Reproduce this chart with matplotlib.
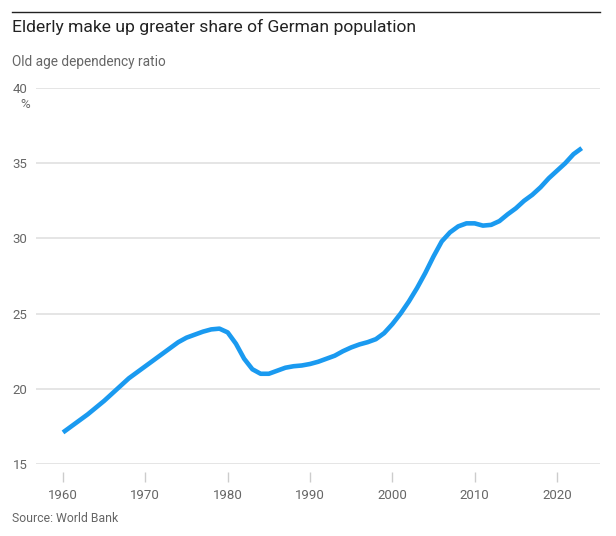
import numpy as np
import matplotlib.pyplot as plt

# Old age dependency ratio, Germany
years = list(range(1960, 2024))
ratio = [17.1, 17.5, 17.9, 18.3, 18.75, 19.2, 19.7, 20.2, 20.7, 21.1,
         21.5, 21.9, 22.3, 22.7, 23.1, 23.4, 23.6, 23.8, 23.95, 24.0,
         23.75, 23.0, 22.0, 21.3, 21.0, 21.0, 21.2, 21.4, 21.5, 21.55,
         21.65, 21.8, 22.0, 22.2, 22.5, 22.75, 22.95, 23.1, 23.3, 23.7,
         24.3, 25.0, 25.8, 26.7, 27.7, 28.8, 29.8, 30.4, 30.8, 31.0,
         31.0, 30.85, 30.9, 31.15, 31.6, 32.0, 32.5, 32.9, 33.4, 34.0,
         34.5, 35.0, 35.6, 36.0]
xticks = [1960, 1970, 1980, 1990, 2000, 2010, 2020]
yticks = [15, 20, 25, 30, 35, 40]

plt.rcParams['font.family'] = ['Roboto', 'DejaVu Sans']

W, H = 616, 536
fig = plt.figure(figsize=(W / 100, H / 100), dpi=100)
ax = fig.add_axes([36 / W, 1 - 464 / H, 564 / W, 376 / H])

ax.plot(years, ratio, color='#1a9af0', lw=3.3, solid_capstyle='butt',
        solid_joinstyle='round', clip_on=False, zorder=3)

ax.set_xlim(1956.72, 2025.22)
ax.set_ylim(15, 40)
ax.set_yticks(yticks)
ax.set_xticks(xticks)
ax.grid(axis='y', color='#e0e0e0', lw=1.2)
ax.set_axisbelow(True)

for s in ['top', 'right', 'left']:
    ax.spines[s].set_visible(False)
ax.spines['bottom'].set_position(('outward', 6))
ax.spines['bottom'].set_visible(False)

ax.tick_params(axis='y', length=0, pad=6, labelsize=9.5, labelcolor='#666666')
ax.tick_params(axis='x', length=7, width=1, color='#cccccc', pad=5,
               labelsize=9.5, labelcolor='#666666')

fig.text(30 / W, 1 - 105 / H, '%', ha='right', va='center',
         fontsize=9.5, color='#666666')

fig.add_artist(plt.Line2D([12 / W, 600 / W], [1 - 12 / H, 1 - 12 / H],
                          color='#222222', lw=1))
fig.text(12 / W, 1 - 27 / H, 'Elderly make up greater share of German population',
         ha='left', va='center', fontsize=12.6, color='#222222')
fig.text(12 / W, 1 - 62 / H, 'Old age dependency ratio',
         ha='left', va='center', fontsize=9.8, color='#666666')
fig.text(12 / W, 1 - 519 / H, 'Source: World Bank',
         ha='left', va='center', fontsize=8.8, color='#666666')

fig.savefig('out.png', dpi=100)
